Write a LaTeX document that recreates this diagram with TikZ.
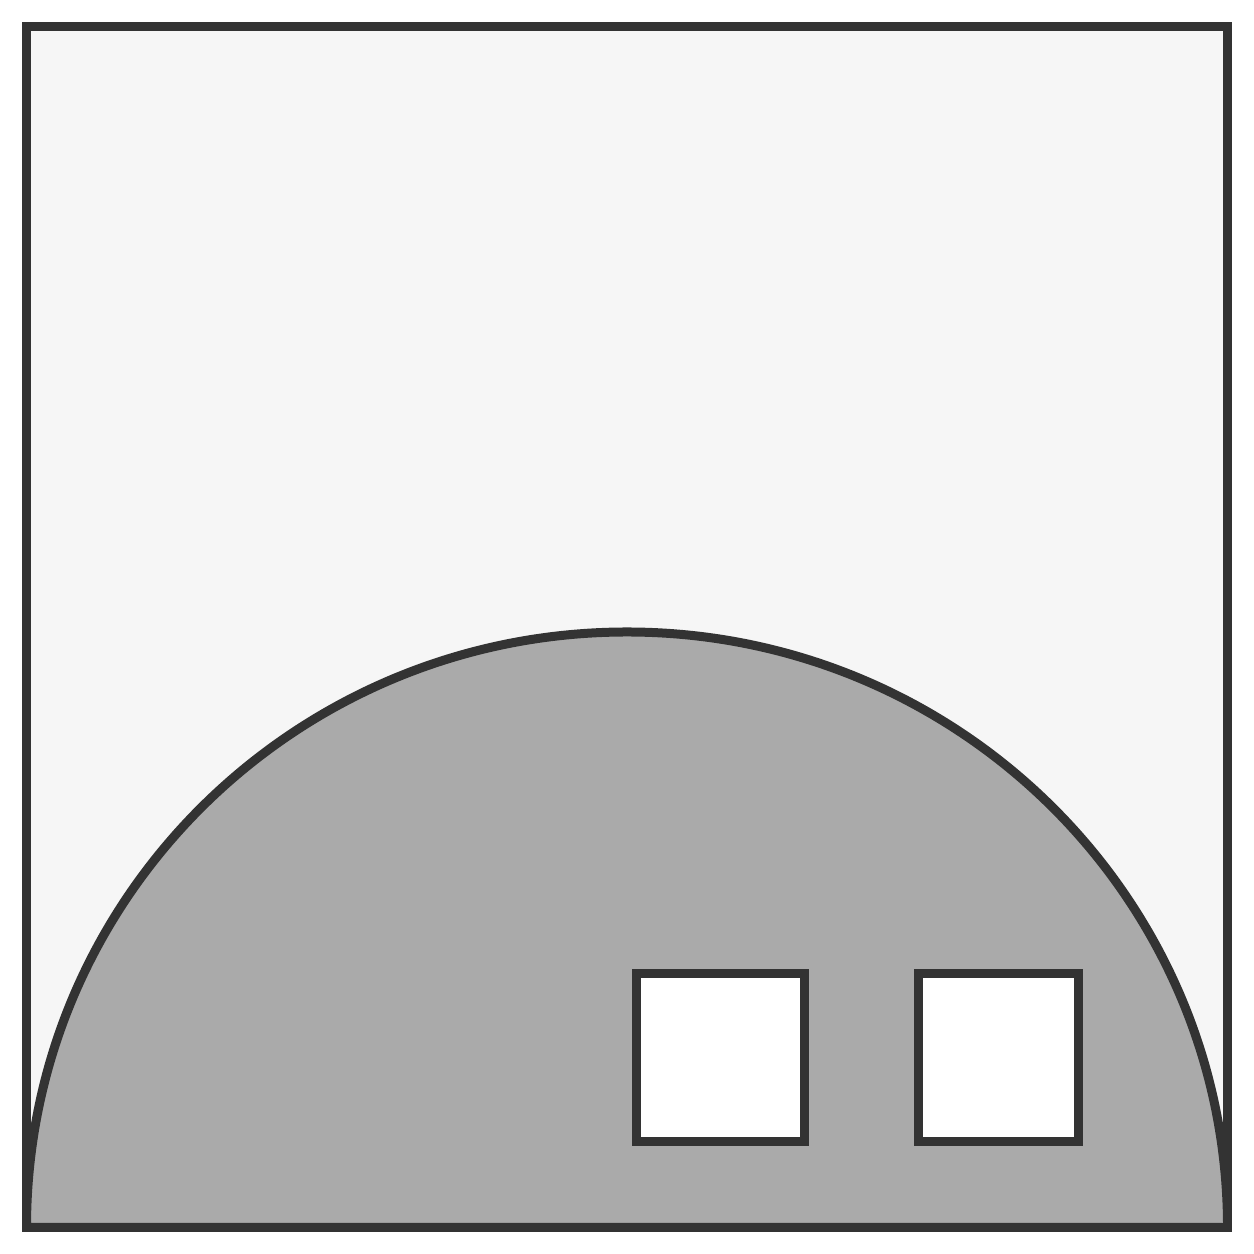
\documentclass[tikz,border=0pt]{standalone}
\usepackage{tikz}
\definecolor{roomgray}{HTML}{F6F6F6}
\definecolor{domegray}{HTML}{AAAAAA}
\definecolor{edgegray}{HTML}{333333}

\begin{document}
\begin{tikzpicture}[outline/.style={draw=edgegray,line width=0.09cm,line join=miter}]
        \useasboundingbox (0,0) rectangle (12.54,12.54);
        \fill[white] (0,0) rectangle (12.54,12.54);
        \draw[outline,fill=roomgray] (0.265,0.265) rectangle (12.275,12.275);
        % dome over the floor
        \begin{scope}
          \clip (0.265,0.265) rectangle (12.275,12.275);
          \draw[outline,fill=domegray] (0.265,0.265) arc[start angle=180,end angle=0,x radius=6.005,y radius=5.955] -- cycle;
        \end{scope}
        \draw[outline] (0.265,0.265) rectangle (12.275,12.275);
        % windows
        \draw[outline,fill=white] (6.36,1.125) rectangle (8.04,2.80);
        \draw[outline,fill=white] (9.18,1.125) rectangle (10.78,2.80);
        \end{tikzpicture}
\end{document}
